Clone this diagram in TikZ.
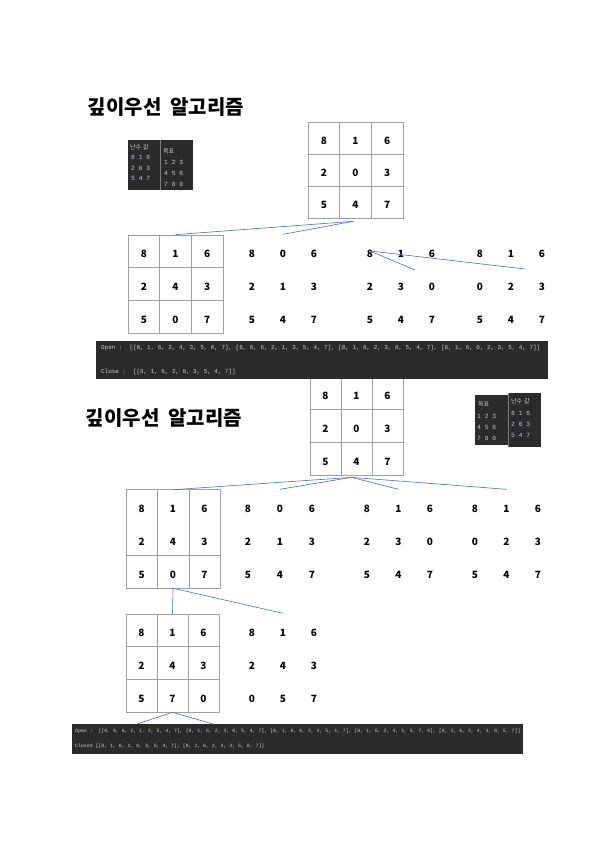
\documentclass[tikz,border=0pt]{standalone}
\usepackage{fontspec}
\setmainfont{Noto Sans CJK KR}
\newfontfamily\codefont{Liberation Mono}
\usepackage{tikz}
\usetikzlibrary{calc}
\definecolor{codebg}{RGB}{43,43,43}
\definecolor{codetext}{RGB}{205,205,205}
\definecolor{codenum}{RGB}{185,200,215}
\definecolor{linkblue}{RGB}{68,114,196}
\definecolor{gridgray}{RGB}{160,160,160}

\begin{document}
\begin{tikzpicture}[x=1pt, y=-1pt,
  title/.style={font=\fontsize{20}{24}\selectfont\bfseries},
  num/.style={inner sep=0pt, font=\fontsize{10}{12}\selectfont\bfseries, text height=13pt, text depth=0pt},
  cell/.style={num, draw=gridgray, line width=0.6pt},
  link/.style={linkblue, line width=0.6pt},
  code/.style={fill=codebg, inner sep=0pt},
  codeline/.style={anchor=west, inner sep=0pt, text=codetext, font=\codefont\fontsize{5.9}{7}\selectfont},
  label/.style={anchor=west, inner sep=0pt, text=codetext, font=\fontsize{6}{7}\selectfont},
  digits/.style={anchor=west, inner sep=0pt, text=codenum, font=\codefont\fontsize{6.3}{7}\selectfont}
]
\useasboundingbox[fill=white] (0,0) rectangle (595,842);

% headings
\node[title] (title1) at (166,107) {깊이우선\hspace{0.45em}알고리즘};
\node[title] (title2) at (164,418) {깊이우선\hspace{0.45em}알고리즘};

% puzzle boards
\foreach \nm/\x/\y/\w/\h/\st/\vals in {
  ra/323.8/138/31.7/32/cell/{8,1,6,2,0,3,5,4,7},
  a1/143.8/251.3/31.7/32.7/cell/{8,1,6,2,4,3,5,0,7},
  a2/252/251/31/33/num/{8,0,6,2,1,3,5,4,7},
  a3/370/251/31/33/num/{8,1,6,2,3,0,5,4,7},
  a4/480/251/31/33/num/{8,1,6,0,2,3,5,4,7},
  rb/325.5/393.3/31/32.7/cell/{8,1,6,2,0,3,5,4,7},
  b1/141.7/506.3/31.3/32.7/num/{8,1,6,2,4,3,5,0,7},
  b2/248/506/32/33/num/{8,0,6,2,1,3,5,4,7},
  b3/367/506/31.5/33/num/{8,1,6,2,3,0,5,4,7},
  b4/475/506/31.5/33/num/{8,1,6,0,2,3,5,4,7},
  c1/141.5/630.3/31/32.7/cell/{8,1,6,2,4,3,5,7,0},
  c2/252/630/31/33/num/{8,1,6,2,4,3,0,5,7}}
  \foreach \v [count=\i from 0] in \vals
    \node[\st, minimum width=\w pt, minimum height=\h pt] (\nm-\i)
      at ({\x+mod(\i,3)*\w},{\y+int(\i/3)*\h}) {\v};

% board b1 is ruled by hand (one line missing)
\draw[gridgray, line width=0.6pt] (b1-0.north west) rectangle (b1-8.south east)
  (b1-0.north east) -- (b1-6.south east)
  (b1-1.north east) -- (b1-7.south east)
  (b1-3.south west) -- (b1-5.south east);

% dark result bars
\node[code, minimum width=452pt, minimum height=38pt] (bar1) at (322,360) {};
\node[codeline] (open1) at (101,348) {Open :\ \ [[8, 1, 6, 2, 4, 3, 5, 0, 7], [8, 0, 6, 2, 1, 3, 5, 4, 7], [8, 1, 6, 2, 3, 0, 5, 4, 7], [8, 1, 6, 0, 2, 3, 5, 4, 7]]};
\node[codeline] (close1) at (101,372) {Close :\ \ [[8, 1, 6, 2, 0, 3, 5, 4, 7]]};

\node[code, minimum width=451pt, minimum height=30pt] (bar2) at (297.5,739) {};
\node[codeline, font=\codefont\fontsize{4.85}{6}\selectfont] (open2) at (75,731) {Open :\ \ [[8, 0, 6, 2, 1, 3, 5, 4, 7], [8, 1, 6, 2, 3, 0, 5, 4, 7], [8, 1, 6, 0, 2, 3, 5, 4, 7], [8, 1, 6, 2, 4, 3, 5, 7, 0], [8, 1, 6, 2, 4, 3, 0, 5, 7]]};
\node[codeline, font=\codefont\fontsize{4.85}{6}\selectfont] (close2) at (75,746) {Closed [[8, 1, 6, 2, 0, 3, 5, 4, 7], [8, 1, 6, 2, 4, 3, 5, 0, 7]]};

% small console shots
\node[code, minimum width=32pt, minimum height=50pt] (rand1) at (144,165) {};
\node[code, minimum width=33pt, minimum height=50pt] (goal1) at (176.5,165) {};
\draw[gray] (goal1.north west) -- (goal1.south west);
\node[label] (rand1-h) at (130,147) {난수\hspace{0.3em}값};
\node[label] (goal1-h) at (163,151) {목표};
\foreach \t [count=\i] in {8 1 6, 2 0 3, 5 4 7}
  \node[digits] (rand1-\i) at (131,{147+\i*10.5}) {\t};
\foreach \t [count=\i] in {1 2 3, 4 5 6, 7 8 0}
  \node[digits] (goal1-\i) at (164,{151+\i*11}) {\t};

\node[code, minimum width=33pt, minimum height=50pt] (goal2) at (491.5,420) {};
\node[code, minimum width=33pt, minimum height=54pt] (rand2) at (524.5,420) {};
\draw[gray] (rand2.north west) -- (rand2.south west);
\node[label] (goal2-h) at (478,404) {목표};
\node[label] (rand2-h) at (511,401) {난수\hspace{0.3em}값};
\foreach \t [count=\i] in {1 2 3, 4 5 6, 7 8 0}
  \node[digits] (goal2-\i) at (477,{406+\i*10.7}) {\t};
\foreach \t [count=\i] in {8 1 6, 2 0 3, 5 4 7}
  \node[digits] (rand2-\i) at (511,{402+\i*11}) {\t};

% connectors
\coordinate (hubA) at ($(ra-7.south)+(-2,3)$);
\coordinate (hubB) at ($(rb-7.south)+(-5,2)$);
\coordinate (stray1) at (415,270);
\coordinate (stray2) at (525,269);
\coordinate (leafL) at (137,724);
\coordinate (leafR) at (213,724);
\draw[link] (hubA) -- (a1-1.north);
\draw[link] (hubA) -- (a2-1.north);
\draw[link] (a3-0.center) -- (stray1);
\draw[link] (a3-0.center) -- (stray2);
\foreach \k in {b1,b2,b3,b4}
  \draw[link] (hubB) -- (\k-1.north);
\draw[link] (b1-7.south) -- (c1-1.north);
\draw[link] (b1-7.south) -- (c2-1.north);
\draw[link] (c1-7.south) -- (leafL);
\draw[link] (c1-7.south) -- (leafR);
\end{tikzpicture}
\end{document}
